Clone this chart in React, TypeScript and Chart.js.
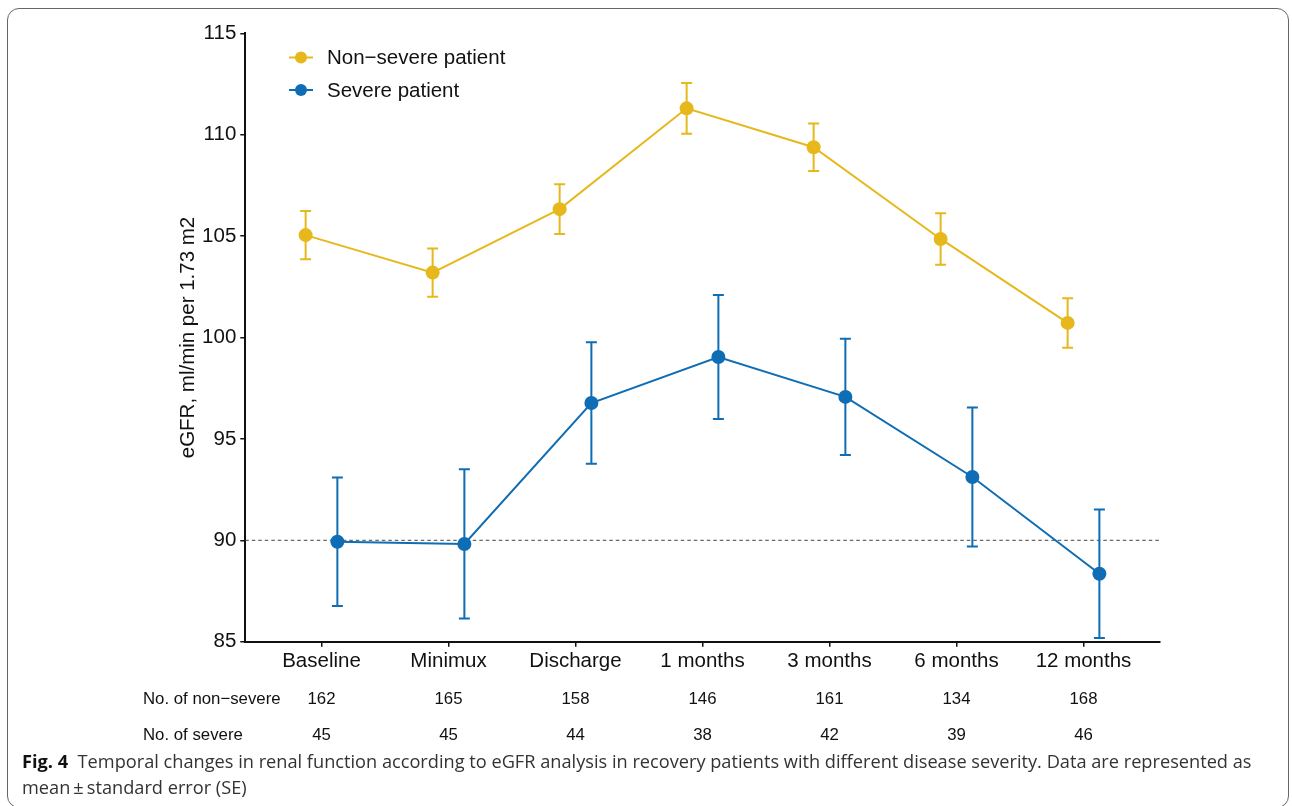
import React, { useEffect, useRef } from "react";
import { Chart, registerables } from "chart.js";

Chart.register(...registerables);

const categories = ["Baseline", "Minimux", "Discharge", "1 months", "3 months", "6 months", "12 months"];
const nonSevereMean = [105.05, 103.2, 106.33, 111.3, 109.38, 104.86, 100.72];
const nonSevereSE = [1.19, 1.19, 1.23, 1.25, 1.17, 1.27, 1.22];
const severeMean = [89.93, 89.82, 96.77, 99.04, 97.07, 93.12, 88.35];
const severeSE = [3.17, 3.68, 3.0, 3.06, 2.87, 3.43, 3.17];
const nonSevereN = [162, 165, 158, 146, 161, 134, 168];
const severeN = [45, 45, 44, 38, 42, 39, 46];
const yTicks = [85, 90, 95, 100, 105, 110, 115];
const seriesLabels = ["Non\u2212severe patient", "Severe patient"];
const tableLabels = ["No. of non\u2212severe", "No. of severe"];
const refLine = 90;

const YELLOW = "#E6B81C";
const BLUE = "#0F6DB5";
const FONT = "'Liberation Sans', Arial, Helvetica, sans-serif";
const DODGE = 0.125;

const errorBars = [nonSevereSE, severeSE];
const means = [nonSevereMean, severeMean];
const tableRows = [nonSevereN, severeN];

const extrasPlugin = {
  id: "extras",
  beforeDatasetsDraw(chart: any) {
    const ctx = chart.ctx;
    const ys = chart.scales.y;
    const area = chart.chartArea;
    // reference line
    ctx.save();
    ctx.strokeStyle = "#444";
    ctx.lineWidth = 1;
    ctx.setLineDash([3.5, 3]);
    const yr = ys.getPixelForValue(refLine);
    ctx.beginPath();
    ctx.moveTo(area.left, yr);
    ctx.lineTo(area.right, yr);
    ctx.stroke();
    ctx.restore();
    // error bars
    chart.data.datasets.forEach((ds: any, di: number) => {
      const meta = chart.getDatasetMeta(di);
      ctx.save();
      ctx.strokeStyle = ds.borderColor;
      ctx.lineWidth = 2;
      meta.data.forEach((el: any, i: number) => {
        const m = means[di][i];
        const se = errorBars[di][i];
        const yt = ys.getPixelForValue(m + se);
        const yb = ys.getPixelForValue(m - se);
        ctx.beginPath();
        ctx.moveTo(el.x, yt);
        ctx.lineTo(el.x, yb);
        ctx.moveTo(el.x - 5.5, yt);
        ctx.lineTo(el.x + 5.5, yt);
        ctx.moveTo(el.x - 5.5, yb);
        ctx.lineTo(el.x + 5.5, yb);
        ctx.stroke();
      });
      ctx.restore();
    });
  },
  afterDraw(chart: any) {
    const ctx = chart.ctx;
    const xs = chart.scales.x;
    // legend
    ctx.save();
    chart.data.datasets.forEach((ds: any, di: number) => {
      const cy = 57.5 + di * 32.5;
      ctx.strokeStyle = ds.borderColor;
      ctx.lineWidth = 2;
      ctx.beginPath();
      ctx.moveTo(289, cy);
      ctx.lineTo(313, cy);
      ctx.stroke();
      ctx.fillStyle = ds.borderColor;
      ctx.beginPath();
      ctx.arc(301, cy, 6, 0, Math.PI * 2);
      ctx.fill();
      ctx.fillStyle = "#111";
      ctx.font = `20.5px ${FONT}`;
      ctx.textAlign = "left";
      ctx.textBaseline = "middle";
      ctx.fillText(ds.label, 327, cy + 1);
    });
    // table rows
    ctx.font = `16.8px ${FONT}`;
    ctx.fillStyle = "#111";
    ctx.textBaseline = "middle";
    tableRows.forEach((row, ri) => {
      const cy = 699 + ri * 36.5;
      ctx.textAlign = "left";
      ctx.fillText(tableLabels[ri], 143, cy);
      ctx.textAlign = "center";
      row.forEach((n, i) => {
        ctx.fillText(String(n), xs.getPixelForValue(i + 1), cy);
      });
    });
    ctx.restore();
  },
};

export default function App() {
  const ref = useRef<HTMLCanvasElement | null>(null);
  useEffect(() => {
    if (!ref.current) return;
    const chart = new Chart(ref.current, {
      type: "line",
      data: {
        datasets: [
          {
            label: seriesLabels[0],
            data: nonSevereMean.map((v, i) => ({ x: i + 1 - DODGE, y: v })),
            borderColor: YELLOW,
            backgroundColor: YELLOW,
            borderWidth: 2,
            pointRadius: 7,
            pointBorderWidth: 0,
            pointBackgroundColor: YELLOW,
            tension: 0,
          },
          {
            label: seriesLabels[1],
            data: severeMean.map((v, i) => ({ x: i + 1 + DODGE, y: v })),
            borderColor: BLUE,
            backgroundColor: BLUE,
            borderWidth: 2,
            pointRadius: 7,
            pointBorderWidth: 0,
            pointBackgroundColor: BLUE,
            tension: 0,
          },
        ],
      },
      options: {
        animation: false,
        responsive: false,
        devicePixelRatio: 1,
        layout: { padding: { left: 176.2, right: 132.3, top: 33.3, bottom: 58.3 } },
        plugins: { legend: { display: false }, tooltip: { enabled: false }, title: { display: false } },
        scales: {
          x: {
            type: "linear",
            min: 0.4,
            max: 7.6,
            afterBuildTicks: (s: any) => {
              s.ticks = categories.map((_, i) => ({ value: i + 1 }));
            },
            afterFit: (s: any) => {
              s.height = 60;
            },
            ticks: {
              autoSkip: false,
              maxRotation: 0,
              padding: 2,
              color: "#111",
              font: { family: FONT, size: 20.5 },
              callback: (v: any) => categories[Math.round(v) - 1] ?? "",
            },
            grid: { display: true, drawOnChartArea: false, drawTicks: true, tickLength: 5, color: "#111", lineWidth: 1.5 },
            border: { display: true, color: "#111", width: 2 },
          },
          y: {
            type: "linear",
            min: 85,
            max: 115,
            afterBuildTicks: (s: any) => {
              s.ticks = yTicks.map((v) => ({ value: v }));
            },
            afterFit: (s: any) => {
              s.width = 69.1;
            },
            ticks: {
              padding: 4,
              color: "#111",
              font: { family: FONT, size: 20.5 },
            },
            title: {
              display: true,
              text: "eGFR, ml/min per 1.73 m2",
              color: "#111",
              font: { family: FONT, size: 20.5 },
              padding: { top: 0, bottom: 0 },
            },
            grid: { display: true, drawOnChartArea: false, drawTicks: true, tickLength: 5, color: "#111", lineWidth: 1.5 },
            border: { display: true, color: "#111", width: 2 },
          },
        },
      },
      plugins: [extrasPlugin],
    } as any);
    return () => chart.destroy();
  }, []);

  return (
    <div style={{ position: "absolute", left: 0, top: 0, width: 1292, height: 806, overflow: "hidden", background: "#fff" }}>
      <div
        style={{
          position: "absolute",
          left: 7,
          top: 8,
          width: 1282,
          height: 800,
          border: "1px solid #666",
          borderRadius: 12,
          boxSizing: "border-box",
        }}
      />
      <canvas ref={ref} width={1292} height={760} style={{ position: "absolute", left: 0, top: 0, display: "block" }} />
      <div
        style={{
          position: "absolute",
          left: 22,
          top: 748,
          fontFamily: "'Open Sans', 'Noto Sans', sans-serif",
          fontSize: 18.2,
          lineHeight: "26px",
          color: "#333",
          whiteSpace: "nowrap",
        }}
      >
        <div>
          <b style={{ color: "#111" }}>Fig. 4</b>
          {"\u00a0\u00a0Temporal changes in renal function according to eGFR analysis in recovery patients with different disease severity. Data are represented as"}
        </div>
        <div>{"mean\u2009\u00b1\u2009standard error (SE)"}</div>
      </div>
    </div>
  );
}
